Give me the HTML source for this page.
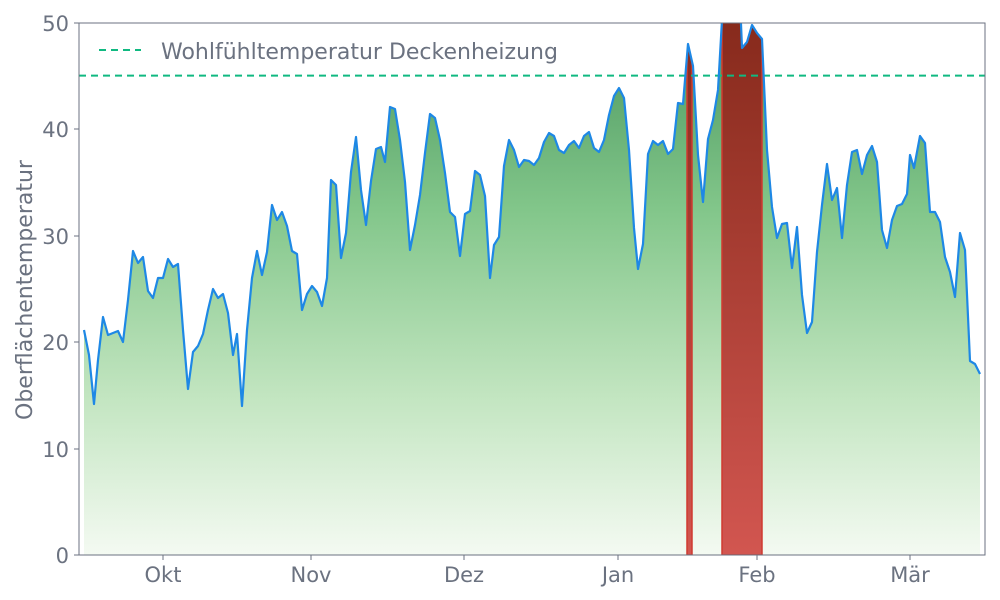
<!DOCTYPE html>
<html><head><meta charset="utf-8"><style>
html,body{margin:0;padding:0;background:#fff;}
svg{display:block;font-family:"DejaVu Sans","Liberation Sans",sans-serif;}
</style></head><body>
<svg width="1000" height="600" viewBox="0 0 1000 600" xmlns="http://www.w3.org/2000/svg">
<defs>
<linearGradient id="g" x1="0" y1="23" x2="0" y2="555" gradientUnits="userSpaceOnUse">
<stop offset="0" stop-color="#4a965e"/><stop offset="0.35" stop-color="#82c68a"/><stop offset="0.7" stop-color="#c2e5c0"/><stop offset="1" stop-color="#f4faf2"/></linearGradient>
<linearGradient id="r" x1="0" y1="23" x2="0" y2="555" gradientUnits="userSpaceOnUse">
<stop offset="0" stop-color="#872a1c"/><stop offset="1" stop-color="#d25650"/></linearGradient>
<clipPath id="pc"><rect x="79" y="23" width="906" height="532"/></clipPath>
<clipPath id="ac"><polygon points="84,555 84,330 89,355 94,404 98,360 103,317 108,335 113,333 118,331 123,342 128,300 133,251 138,263 143,257 148,291 153,298 158,278 163,278 168,259 173,267 178,264 183,330 188,389 193,352 198,346 203,334 208,310 213,289 218,298 223,294 228,313 233,355 237,334 242,406 247,330 252,278 257,251 262,275 267,252 272,205 277,220 282,212 287,226 292,251 297,254 302,310 307,294 312,286 317,292 322,306 327,278 331,180 336,185 341,258 346,233 351,172 356,137 361,190 366,225 371,181 376,149 381,147 385,162 390,107 395,109 400,140 405,182 410,250 415,225 420,195 425,153 430,114 435,118 440,140 445,173 450,212 455,217 460,256 465,214 470,211 475,171 480,175 485,196 490,278 494,245 499,237 504,166 509,140 514,150 519,167 524,160 529,161 534,165 539,158 544,142 549,133 554,136 559,150 564,153 569,145 574,141 579,148 584,136 589,132 594,148 599,152 604,140 609,115 614,96 619,88 624,98 629,150 634,228 638,269 643,244 648,154 653,141 658,145 663,141 668,154 673,149 678,103 683,104 688,44 693,66 698,155 703,202 708,139 713,120 718,90 722,20 726,0 740,0 742,48 747,42 752,25 757,33 762,39 767,150 772,207 777,238 782,224 787,223 792,268 797,227 802,295 807,333 812,322 817,252 822,205 827,164 832,200 837,188 842,238 847,185 852,152 857,150 862,174 867,155 872,146 877,162 882,230 887,248 892,220 897,206 902,204 907,194 910,155 914,168 920,136 925,143 930,212 935,212 940,222 945,257 950,272 955,297 960,233 965,250 970,361 975,364 980,374 980,555"/></clipPath>
</defs>
<g clip-path="url(#pc)">
<rect x="79" y="0" width="906" height="555" fill="url(#g)" clip-path="url(#ac)"/>
<rect x="687" y="0" width="5" height="555" fill="url(#r)" stroke="#d03a30" stroke-width="1.5" clip-path="url(#ac)"/>
<rect x="722" y="0" width="40" height="555" fill="url(#r)" stroke="#d03a30" stroke-width="1.5" clip-path="url(#ac)"/>
<line x1="79" y1="75.6" x2="985" y2="75.6" stroke="#10b981" stroke-width="2" stroke-dasharray="7,5"/>
<polyline fill="none" stroke="#1e88e5" stroke-width="2.2" stroke-linejoin="round" points="84,330 89,355 94,404 98,360 103,317 108,335 113,333 118,331 123,342 128,300 133,251 138,263 143,257 148,291 153,298 158,278 163,278 168,259 173,267 178,264 183,330 188,389 193,352 198,346 203,334 208,310 213,289 218,298 223,294 228,313 233,355 237,334 242,406 247,330 252,278 257,251 262,275 267,252 272,205 277,220 282,212 287,226 292,251 297,254 302,310 307,294 312,286 317,292 322,306 327,278 331,180 336,185 341,258 346,233 351,172 356,137 361,190 366,225 371,181 376,149 381,147 385,162 390,107 395,109 400,140 405,182 410,250 415,225 420,195 425,153 430,114 435,118 440,140 445,173 450,212 455,217 460,256 465,214 470,211 475,171 480,175 485,196 490,278 494,245 499,237 504,166 509,140 514,150 519,167 524,160 529,161 534,165 539,158 544,142 549,133 554,136 559,150 564,153 569,145 574,141 579,148 584,136 589,132 594,148 599,152 604,140 609,115 614,96 619,88 624,98 629,150 634,228 638,269 643,244 648,154 653,141 658,145 663,141 668,154 673,149 678,103 683,104 688,44 693,66 698,155 703,202 708,139 713,120 718,90 722,20 726,0 740,0 742,48 747,42 752,25 757,33 762,39 767,150 772,207 777,238 782,224 787,223 792,268 797,227 802,295 807,333 812,322 817,252 822,205 827,164 832,200 837,188 842,238 847,185 852,152 857,150 862,174 867,155 872,146 877,162 882,230 887,248 892,220 897,206 902,204 907,194 910,155 914,168 920,136 925,143 930,212 935,212 940,222 945,257 950,272 955,297 960,233 965,250 970,361 975,364 980,374"/>
</g>
<rect x="79" y="23" width="906" height="532" fill="none" stroke="#6b7280" stroke-width="1"/>
<g fill="#6b7280" font-size="21" text-anchor="end">
<text x="69" y="563">0</text><text x="69" y="457">10</text><text x="69" y="350">20</text>
<text x="69" y="244">30</text><text x="69" y="137">40</text><text x="69" y="31">50</text>
</g>
<g stroke="#6b7280"><line x1="74" y1="555" x2="79" y2="555"/><line x1="74" y1="449" x2="79" y2="449"/><line x1="74" y1="342" x2="79" y2="342"/><line x1="74" y1="236" x2="79" y2="236"/><line x1="74" y1="129" x2="79" y2="129"/><line x1="74" y1="23" x2="79" y2="23"/>
<line x1="163" y1="555" x2="163" y2="560"/><line x1="311" y1="555" x2="311" y2="560"/><line x1="464" y1="555" x2="464" y2="560"/><line x1="618" y1="555" x2="618" y2="560"/><line x1="757" y1="555" x2="757" y2="560"/><line x1="910" y1="555" x2="910" y2="560"/></g>
<g fill="#6b7280" font-size="21" text-anchor="middle">
<text x="163" y="582">Okt</text><text x="311" y="582">Nov</text><text x="464" y="582">Dez</text><text x="618" y="582">Jan</text><text x="757" y="582">Feb</text><text x="910" y="582">Mär</text>
</g>
<text transform="translate(32,290) rotate(-90)" fill="#6b7280" font-size="22" text-anchor="middle">Oberflächentemperatur</text>
<line x1="99" y1="50" x2="141" y2="50" stroke="#10b981" stroke-width="2" stroke-dasharray="7,5"/>
<text x="161" y="59" fill="#6b7280" font-size="22">Wohlfühltemperatur Deckenheizung</text>
</svg>
</body></html>
